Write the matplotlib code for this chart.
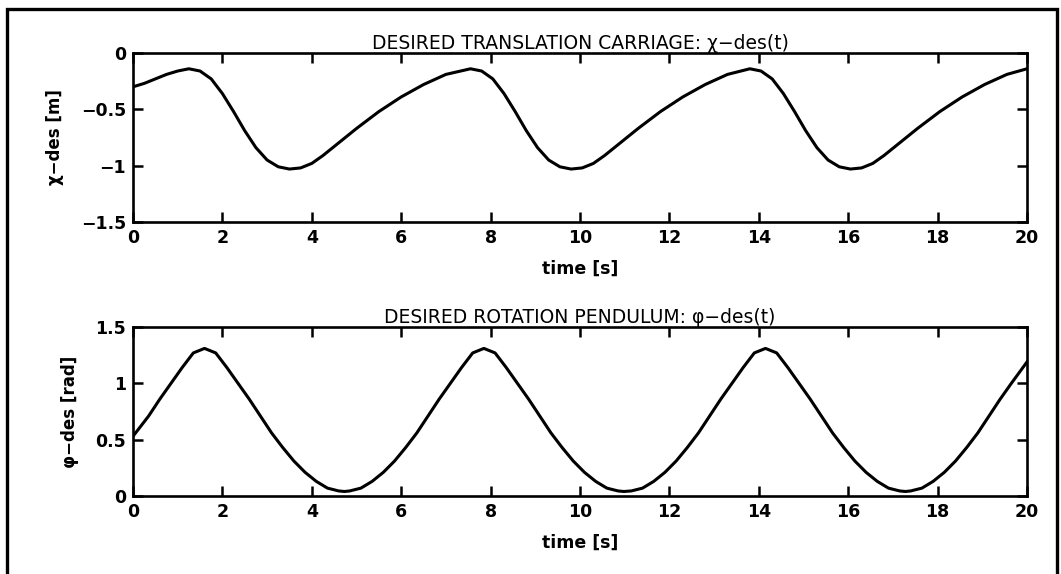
import matplotlib
matplotlib.use("Agg")
import matplotlib.pyplot as plt
from matplotlib.patches import Rectangle

# desired carriage translation x-des(t) [m]
t_x = [0.0, 0.25, 0.5, 0.75, 1.0, 1.25,
       1.5, 1.75, 2.0, 2.25, 2.5, 2.75, 3.0, 3.25, 3.5,
       3.75, 4.0, 4.25, 4.5, 5.0, 5.5, 6.0, 6.5, 7.0, 7.55,
       7.8, 8.05, 8.3, 8.55, 8.8, 9.05, 9.3, 9.55, 9.8,
       10.05, 10.3, 10.55, 10.8, 11.3, 11.8, 12.3, 12.8, 13.3, 13.8,
       14.05, 14.3, 14.55, 14.8, 15.05, 15.3, 15.55, 15.8, 16.05,
       16.3, 16.55, 16.8, 17.05, 17.55, 18.05, 18.55, 19.05, 19.55, 20.0]
x_des = [-0.30, -0.27, -0.23, -0.19, -0.16, -0.14,
         -0.16, -0.23, -0.36, -0.52, -0.69, -0.84, -0.95, -1.01, -1.03,
         -1.02, -0.98, -0.91, -0.83, -0.67, -0.52, -0.39, -0.28, -0.19, -0.14,
         -0.16, -0.23, -0.36, -0.52, -0.69, -0.84, -0.95, -1.01, -1.03,
         -1.02, -0.98, -0.91, -0.83, -0.67, -0.52, -0.39, -0.28, -0.19, -0.14,
         -0.16, -0.23, -0.36, -0.52, -0.69, -0.84, -0.95, -1.01, -1.03,
         -1.02, -0.98, -0.91, -0.83, -0.67, -0.52, -0.39, -0.28, -0.19, -0.14]

# desired pendulum rotation phi-des(t) [rad]
t_phi = [0.0, 0.35, 0.6, 0.85, 1.1, 1.35, 1.6,
         1.85, 2.1, 2.35, 2.6, 2.85, 3.1, 3.35, 3.6, 3.85, 4.1, 4.35, 4.6, 4.73,
         4.85, 5.1, 5.35, 5.6, 5.85, 6.1, 6.35, 6.6, 6.85, 7.1, 7.35, 7.6, 7.85,
         8.1, 8.35, 8.6, 8.85, 9.1, 9.35, 9.6, 9.85, 10.1, 10.35, 10.6, 10.85, 10.98,
         11.15, 11.4, 11.65, 11.9, 12.15, 12.4, 12.65, 12.9, 13.15, 13.4, 13.65, 13.9, 14.15,
         14.4, 14.65, 14.9, 15.15, 15.4, 15.65, 15.9, 16.15, 16.4, 16.65, 16.9, 17.15, 17.28,
         17.4, 17.65, 17.9, 18.15, 18.4, 18.65, 18.9, 19.15, 19.4, 19.65, 20.0]
phi_des = [0.53, 0.71, 0.86, 1.00, 1.14, 1.27, 1.31,
           1.27, 1.14, 1.00, 0.86, 0.71, 0.56, 0.43, 0.31, 0.21, 0.13, 0.07, 0.045, 0.04,
           0.045, 0.07, 0.13, 0.21, 0.31, 0.43, 0.56, 0.71, 0.86, 1.00, 1.14, 1.27, 1.31,
           1.27, 1.14, 1.00, 0.86, 0.71, 0.56, 0.43, 0.31, 0.21, 0.13, 0.07, 0.045, 0.04,
           0.045, 0.07, 0.13, 0.21, 0.31, 0.43, 0.56, 0.71, 0.86, 1.00, 1.14, 1.27, 1.31,
           1.27, 1.14, 1.00, 0.86, 0.71, 0.56, 0.43, 0.31, 0.21, 0.13, 0.07, 0.045, 0.04,
           0.045, 0.07, 0.13, 0.21, 0.31, 0.43, 0.56, 0.71, 0.86, 1.00, 1.19]

x_ticks = [0, 2, 4, 6, 8, 10, 12, 14, 16, 18, 20]
x_yticks = [-1.5, -1, -0.5, 0]
x_yticklabels = ["\u22121.5", "\u22121", "\u22120.5", "0"]
phi_yticks = [0, 0.5, 1, 1.5]
phi_yticklabels = ["0", "0.5", "1", "1.5"]

plt.rcParams["font.family"] = ["DejaVu Sans"]

W, H = 1061, 574
fig = plt.figure(figsize=(W / 100, H / 100), dpi=100)
fig.patch.set_facecolor("white")

# outer frame around the sheet (bottom edge runs off the page)
fig.patches.append(Rectangle((7 / W, -10 / H), (1057 - 7) / W, (565 + 10) / H,
                             transform=fig.transFigure, fill=False,
                             edgecolor="black", linewidth=2.4))


def style_axes(ax, yticks, yticklabels, ylim):
    ax.set_xlim(0, 20)
    ax.set_ylim(*ylim)
    ax.set_xticks(x_ticks)
    ax.set_xticklabels([str(v) for v in x_ticks], fontsize=12.5, fontweight="bold")
    ax.set_yticks(yticks)
    ax.set_yticklabels(yticklabels, fontsize=12.5, fontweight="bold")
    ax.tick_params(direction="in", length=7, width=1.8, top=True, right=True,
                   pad=5)
    for sp in ax.spines.values():
        sp.set_linewidth(1.9)
    ax.set_xlabel("time [s]", fontsize=12.5, fontweight="bold", labelpad=9)


ax1 = fig.add_axes([133 / W, 1 - 222 / H, (1027 - 133) / W, (222 - 53) / H])
ax1.plot(t_x, x_des, color="black", linewidth=2.2)
style_axes(ax1, x_yticks, x_yticklabels, (-1.5, 0))
ax1.set_ylabel("\u03c7\u2212des [m]", fontsize=12, fontweight="bold", labelpad=12)
ax1.set_title("DESIRED TRANSLATION CARRIAGE: \u03c7\u2212des(t)", fontsize=13.5, pad=3)

ax2 = fig.add_axes([133 / W, 1 - 496 / H, (1027 - 133) / W, (496 - 327) / H])
ax2.plot(t_phi, phi_des, color="black", linewidth=2.2)
style_axes(ax2, phi_yticks, phi_yticklabels, (0, 1.5))
ax2.set_ylabel("\u03c6\u2212des [rad]", fontsize=12, fontweight="bold", labelpad=12)
ax2.set_title("DESIRED ROTATION PENDULUM: \u03c6\u2212des(t)", fontsize=13.5, pad=3)

fig.savefig("out.png", dpi=100)
